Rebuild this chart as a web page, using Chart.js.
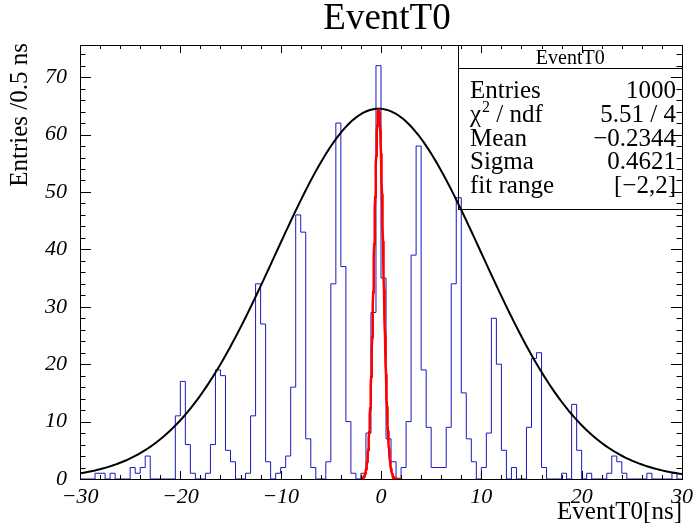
<!DOCTYPE html>
<html>
<head>
<meta charset="utf-8">
<script src="https://cdn.jsdelivr.net/npm/chart.js@4.4.1/dist/chart.umd.min.js"></script>
<style>
  html, body { margin: 0; padding: 0; background: #fff; }
</style>
</head>
<body>
<canvas id="hist" width="694" height="531"></canvas>
<script>
// EventT0 histogram: 120 bins of 0.5 ns from -30 to 30
const binLow = -30;
const binWidth = 0.5;
const binCounts = [
  0, 0, 0, 1, 1, 0, 1, 0, 0, 0,
  2, 1, 2, 4, 0, 0, 0, 0, 0, 11,
  17, 6, 1, 0, 0, 1, 6, 19, 18, 5,
  3, 0, 0, 1, 11, 34, 27, 3, 0, 1,
  2, 4, 16, 46, 43, 7, 2, 0, 0, 3,
  34, 62, 37, 10, 1, 0, 1, 8, 29, 72,
  35, 7, 3, 0, 2, 10, 39, 58, 19, 9,
  2, 2, 2, 9, 34, 49, 15, 7, 3, 0,
  2, 8, 28, 20, 5, 0, 2, 0, 0, 9,
  21, 22, 2, 0, 0, 0, 1, 0, 13, 5,
  0, 1, 0, 0, 0, 1, 4, 3, 1, 0,
  0, 0, 0, 1, 0, 0, 0, 0, 1, 0
];

const xTickValues = [-30, -20, -10, 0, 10, 20, 30];
const xTickLabels = ['\u221230', '\u221220', '\u221210', '0', '10', '20', '30'];
const yTickValues = [0, 10, 20, 30, 40, 50, 60, 70];
const yTickLabels = ['0', '10', '20', '30', '40', '50', '60', '70'];

// stats box
const statTitle = 'EventT0';
const statLabels = ['Entries', '\u03C7', 'Mean', 'Sigma', 'fit range'];
const statValues = ['1000', '5.51 / 4', '\u22120.2344', '0.4621', '[\u22122,2]'];

// gaussian fit over the fit range, and the wide gaussian envelope
const fitConstant = 64.5;
const fitMean = -0.2344;
const fitSigma = 0.4621;
const fitRange = [-2, 2];
const wideConstant = 64.5;
const wideMean = -0.2344;
const wideSigma = 10.3;

const serif = "'Liberation Serif', 'DejaVu Serif', serif";

function gaus(c, m, s, x) {
  return c * Math.exp(-0.5 * ((x - m) / s) ** 2);
}

function sampleCurve(c, m, s, from, to, n) {
  const pts = [];
  for (let i = 0; i <= n; i++) {
    const x = from + (to - from) * i / n;
    pts.push({ x: x, y: gaus(c, m, s, x) });
  }
  return pts;
}

// step outline: one point per low edge plus the last high edge
const histPoints = binCounts.map((c, i) => ({ x: binLow + i * binWidth, y: c }));
histPoints.push({ x: binLow + binCounts.length * binWidth, y: binCounts[binCounts.length - 1] });

// frame, inward ticks on all four sides, titles and stats box
const rootFrame = {
  id: 'rootFrame',
  afterDraw(chart) {
    const { ctx, chartArea: a, scales: { x, y } } = chart;
    ctx.save();
    ctx.strokeStyle = '#000';
    ctx.lineWidth = 1;

    ctx.beginPath();
    for (let v = -30; v <= 30; v += 2) {
      const px = Math.round(x.getPixelForValue(v)) + 0.5;
      const len = v % 10 === 0 ? 8 : 4;
      ctx.moveTo(px, a.bottom); ctx.lineTo(px, a.bottom - len);
      ctx.moveTo(px, a.top); ctx.lineTo(px, a.top + len);
    }
    for (let v = 0; v <= y.max; v += 2) {
      const py = Math.round(y.getPixelForValue(v)) + 0.5;
      const len = v % 10 === 0 ? 11 : 5.5;
      ctx.moveTo(a.left, py); ctx.lineTo(a.left + len, py);
      ctx.moveTo(a.right, py); ctx.lineTo(a.right - len, py);
    }
    ctx.stroke();
    ctx.strokeRect(Math.round(a.left) + 0.5, Math.round(a.top) + 0.5,
      Math.round(a.right - a.left), Math.round(a.bottom - a.top));

    ctx.fillStyle = '#000';
    ctx.textBaseline = 'alphabetic';

    // main title
    ctx.font = '37px ' + serif;
    ctx.textAlign = 'center';
    ctx.fillText('EventT0', 387, 29);

    // axis titles
    ctx.font = '25px ' + serif;
    ctx.textAlign = 'right';
    ctx.fillText('EventT0[ns]', a.right, 519);
    ctx.save();
    ctx.translate(27, a.top - 2);
    ctx.rotate(-Math.PI / 2);
    ctx.fillText('Entries /0.5 ns', 0, 0);
    ctx.restore();

    // stats box
    const bl = 458, bt = Math.round(a.top) + 0.5, br = Math.round(a.right) + 0.5, bb = 209.5;
    ctx.strokeRect(bl + 0.5, bt, br - bl - 0.5, bb - bt);
    ctx.beginPath();
    ctx.moveTo(bl + 0.5, 68.5); ctx.lineTo(br, 68.5);
    ctx.stroke();
    ctx.font = '20px ' + serif;
    ctx.textAlign = 'center';
    ctx.fillText(statTitle, (bl + br) / 2, 64);
    statLabels.forEach((lab, i) => {
      const base = 98 + i * 23.8;
      ctx.font = '25px ' + serif;
      ctx.textAlign = 'left';
      ctx.fillText(lab, 470, base);
      if (lab === '\u03C7') {
        const w = ctx.measureText(lab).width;
        ctx.font = '16px ' + serif;
        ctx.fillText('2', 470 + w + 1, base - 10);
        const w2 = ctx.measureText('2').width;
        ctx.font = '25px ' + serif;
        ctx.fillText(' / ndf', 470 + w + w2 + 1, base);
      }
      ctx.textAlign = 'right';
      ctx.fillText(statValues[i], 676, base);
    });
    ctx.restore();
  }
};

new Chart(document.getElementById('hist'), {
  type: 'line',
  data: {
    datasets: [
      {
        label: 'EventT0',
        data: histPoints,
        stepped: 'before',
        borderColor: 'rgb(25,25,190)',
        borderWidth: 1,
        pointRadius: 0,
        fill: false,
        order: 3
      },
      {
        label: 'wide gaus',
        data: sampleCurve(wideConstant, wideMean, wideSigma, -30, 30, 240),
        borderColor: '#000',
        borderWidth: 2,
        pointRadius: 0,
        tension: 0,
        fill: false,
        order: 2
      },
      {
        label: 'fit',
        data: sampleCurve(fitConstant, fitMean, fitSigma, fitRange[0], fitRange[1], 160),
        borderColor: '#ff0000',
        borderWidth: 2.5,
        pointRadius: 0,
        tension: 0,
        fill: false,
        order: 1
      }
    ]
  },
  options: {
    responsive: false,
    animation: false,
    layout: { padding: { left: 0, right: 12, top: 45, bottom: 0 } },
    plugins: { legend: { display: false }, tooltip: { enabled: false }, title: { display: false } },
    scales: {
      x: {
        type: 'linear',
        min: -30,
        max: 30,
        grid: { display: false, drawTicks: false },
        border: { display: false },
        afterBuildTicks: s => { s.ticks = xTickValues.map(v => ({ value: v })); },
        // labels at the ends may overhang the frame
        afterFit: s => { s.height = 52; s.paddingLeft = 0; s.paddingRight = 0; },
        ticks: {
          padding: 5,
          maxRotation: 0,
          autoSkip: false,
          color: '#000',
          font: { family: serif, size: 22, style: 'italic' },
          callback: v => xTickLabels[xTickValues.indexOf(v)]
        }
      },
      y: {
        type: 'linear',
        min: 0,
        max: 75.6,
        grid: { display: false, drawTicks: false },
        border: { display: false },
        afterBuildTicks: s => { s.ticks = yTickValues.map(v => ({ value: v })); },
        afterFit: s => { s.width = 80; s.paddingTop = 0; s.paddingBottom = 0; },
        ticks: {
          padding: 13,
          autoSkip: false,
          color: '#000',
          font: { family: serif, size: 22, style: 'italic' },
          callback: v => yTickLabels[yTickValues.indexOf(v)]
        }
      }
    }
  },
  plugins: [rootFrame]
});
</script>
</body>
</html>
